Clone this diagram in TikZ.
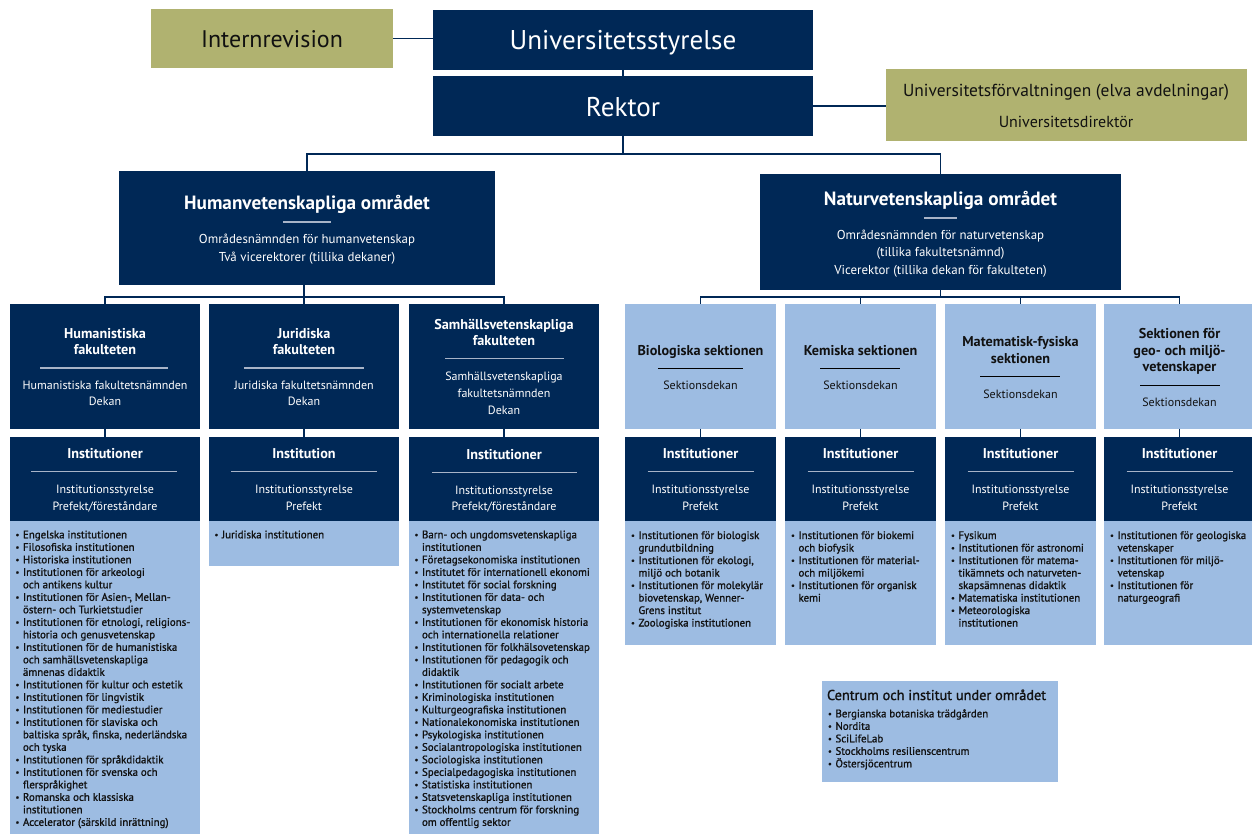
\documentclass[tikz,border=0pt]{standalone}
\usepackage{fontspec}
\setmainfont{PT Sans}
\newfontfamily\medf[FakeBold=1.2]{PT Sans}
\definecolor{sunavy}{RGB}{0,40,86}
\definecolor{sulight}{RGB}{157,188,226}
\definecolor{suolive}{RGB}{176,178,112}
\definecolor{surule}{RGB}{168,180,200}
\definecolor{sutext}{RGB}{17,17,17}
\newcommand\lbul{\makebox[7.5pt][l]{\raisebox{0.6pt}{\fontsize{8.5}{8.5}\selectfont\textbullet}}}
\newcommand\lcont{\makebox[7.5pt]{}}
\newcommand\lstrut{\rule{0pt}{8.5pt}}
\tikzset{
  every node/.style={inner sep=0pt, outer sep=0pt},
  boxnode/.style={anchor=north west, draw=none},
  navybox/.style={boxnode, fill=sunavy},
  lightbox/.style={boxnode, fill=sulight},
  olivebox/.style={boxnode, fill=suolive},
  conn/.style={draw=sunavy, line width=1.6pt},
  wrule/.style={draw=surule, line width=1.1pt},
  krule/.style={draw=black, line width=1pt},
  wt/.style={anchor=base, text=white},
  kt/.style={anchor=base, text=sutext},
  bigf/.style={font=\fontsize{27.1}{30}\selectfont},
  areat/.style={font=\bfseries\fontsize{19.2}{22}\selectfont},
  areas/.style={font=\fontsize{12.9}{15}\selectfont},
  tit/.style={font=\bfseries\fontsize{14.2}{17}\selectfont},
  sub/.style={font=\fontsize{12}{14}\selectfont},
  listf/.style={anchor=north west, align=left, text=sutext, font=\medf\fontsize{10.9}{12.5}\selectfont},
}
\begin{document}
\begin{tikzpicture}[x=1pt,y=-1pt]
\fill[white] (0,0) rectangle (1252,835);
\useasboundingbox (0,0) rectangle (1252,835);

% ---------- boxes ----------
\node[olivebox, minimum width=242pt, minimum height=59pt] (intrev) at (151,9) {};
\node[navybox, minimum width=380pt, minimum height=60pt] (ustyr) at (433,10) {};
\node[navybox, minimum width=380pt, minimum height=60pt] (rektor) at (433,76) {};
\node[olivebox, minimum width=361pt, minimum height=72pt] (uforv) at (886,69) {};
\node[navybox, minimum width=376pt, minimum height=114pt] (hv) at (119,171) {};
\node[navybox, minimum width=361pt, minimum height=115.5pt] (nv) at (760,174) {};

\node[navybox, minimum width=190pt, minimum height=124.5pt] (hum) at (10,304) {};
\node[navybox, minimum width=190pt, minimum height=124.5pt] (jur) at (209,304) {};
\node[navybox, minimum width=190pt, minimum height=124.5pt] (sam) at (409,304) {};
\node[lightbox, minimum width=151pt, minimum height=124.5pt] (bio) at (625,304) {};
\node[lightbox, minimum width=151pt, minimum height=124.5pt] (kem) at (785,304) {};
\node[lightbox, minimum width=151pt, minimum height=124.5pt] (mat) at (945,304) {};
\node[lightbox, minimum width=151pt, minimum height=124.5pt] (geo) at (1104,304) {};

\node[navybox, minimum width=190pt, minimum height=84pt] (humI) at (10,437) {};
\node[navybox, minimum width=190pt, minimum height=84pt] (jurI) at (209,437) {};
\node[navybox, minimum width=190pt, minimum height=84pt] (samI) at (409,437) {};
\node[navybox, minimum width=151pt, minimum height=84pt] (bioI) at (625,437) {};
\node[navybox, minimum width=151pt, minimum height=84pt] (kemI) at (785,437) {};
\node[navybox, minimum width=151pt, minimum height=84pt] (matI) at (945,437) {};
\node[navybox, minimum width=151pt, minimum height=84pt] (geoI) at (1104,437) {};

\node[lightbox, minimum width=190pt, minimum height=313pt] (humL) at (10,521) {};
\node[lightbox, minimum width=190pt, minimum height=45pt] (jurL) at (209,521) {};
\node[lightbox, minimum width=190pt, minimum height=313pt] (samL) at (409,521) {};
\node[lightbox, minimum width=151pt, minimum height=124pt] (bioL) at (625,521) {};
\node[lightbox, minimum width=151pt, minimum height=124pt] (kemL) at (785,521) {};
\node[lightbox, minimum width=151pt, minimum height=124pt] (matL) at (945,521) {};
\node[lightbox, minimum width=151pt, minimum height=124pt] (geoL) at (1104,521) {};

\node[lightbox, minimum width=236pt, minimum height=101pt] (cen) at (822,681) {};

% ---------- connectors ----------
\draw[conn] (intrev.east) -- (intrev.east -| ustyr.west);
\draw[conn] (ustyr.south) -- (rektor.north);
\draw[conn] (rektor.east) -- (rektor.east -| uforv.west);
\draw[conn] (rektor.south) -- ++(0,17.7) coordinate (j1);
\draw[conn] (hv.north) |- (j1) -| (nv.north);
\draw[conn] (hv.south -| jur.north) -- (jur.north);
\draw[conn] (hum.north) -- ++(0,-7) -| (sam.north);
\draw[conn] (nv.south) -- ++(0,7.5);
\draw[conn] (bio.north) -- ++(0,-7) -| (geo.north);
\draw[conn] (kem.north) -- ++(0,-7);
\draw[conn] (mat.north) -- ++(0,-7);
\foreach \a in {hum,jur,sam,bio,kem,mat,geo}{
  \draw[conn] (\a.south) -- (\a I.north);
}

% ---------- top texts ----------
\node[kt, font=\fontsize{24}{28}\selectfont] (intrevT) at (272,47.7) {Internrevision};
\node[wt, bigf] (ustyrT) at (623,49) {Universitetsstyrelse};
\node[wt, bigf] (rektorT) at (623,116) {Rektor};
\node[kt, font=\fontsize{17.4}{20}\selectfont] (uforvT1) at (1066,96.7) {Universitetsförvaltningen (elva avdelningar)};
\node[kt, font=\fontsize{16}{20}\selectfont] (uforvT2) at (1066,127) {Universitetsdirektör};

% ---------- area boxes ----------
\node[wt, areat] (hvT) at (307,209) {Humanvetenskapliga området};
\draw[wrule] (283,222) -- (331,222);
\node[wt, areas] (hvS1) at (307,243.3) {Områdesnämnden för humanvetenskap};
\node[wt, areas] (hvS2) at (307,261.3) {Två vicerektorer (tillika dekaner)};

\node[wt, areat] (nvT) at (940.5,205) {Naturvetenskapliga området};
\draw[wrule] (924,218) -- (957,218);
\node[wt, areas] (nvS1) at (940.5,239.3) {Områdesnämnden för naturvetenskap};
\node[wt, areas] (nvS2) at (940.5,256.8) {(tillika fakultetsnämnd)};
\node[wt, areas] (nvS3) at (940.5,274.3) {Vicerektor (tillika dekan för fakulteten)};

% ---------- faculties ----------
\node[wt, tit] (humT1) at (105,338.3) {Humanistiska};
\node[wt, tit] (humT2) at (105,354) {fakulteten};
\draw[wrule] (40,368) -- (168,368);
\node[wt, sub] (humS1) at (105,389) {Humanistiska fakultetsnämnden};
\node[wt, sub] (humS2) at (105,405.7) {Dekan};

\node[wt, tit] (jurT1) at (304,338.3) {Juridiska};
\node[wt, tit] (jurT2) at (304,354) {fakulteten};
\draw[wrule] (244,368) -- (364,368);
\node[wt, sub] (jurS1) at (304,389) {Juridiska fakultetsnämnden};
\node[wt, sub] (jurS2) at (304,405.7) {Dekan};

\node[wt, tit] (samT1) at (504,329.3) {Samhällsvetenskapliga};
\node[wt, tit] (samT2) at (504,345.7) {fakulteten};
\draw[wrule] (445,358.7) -- (564,358.7);
\node[wt, sub] (samS1) at (504,380.7) {Samhällsvetenskapliga};
\node[wt, sub] (samS2) at (504,397) {fakultetsnämnden};
\node[wt, sub] (samS3) at (504,414.3) {Dekan};

% ---------- sections ----------
\node[kt, tit] (bioT) at (700.5,355) {Biologiska sektionen};
\draw[krule] (658,368.3) -- (743,368.3);
\node[kt, sub] (bioS) at (700.5,389.3) {Sektionsdekan};

\node[kt, tit] (kemT) at (860.5,355) {Kemiska sektionen};
\draw[krule] (820,368.3) -- (900,368.3);
\node[kt, sub] (kemS) at (860.5,389.3) {Sektionsdekan};

\node[kt, tit] (matT1) at (1020.5,346) {Matematisk-fysiska};
\node[kt, tit] (matT2) at (1020.5,363.3) {sektionen};
\draw[krule] (980,376.7) -- (1060,376.7);
\node[kt, sub] (matS) at (1020.5,398.3) {Sektionsdekan};

\node[kt, tit] (geoT1) at (1179.5,338.3) {Sektionen för};
\node[kt, tit] (geoT2) at (1179.5,355) {geo- och miljö-};
\node[kt, tit] (geoT3) at (1179.5,371.7) {vetenskaper};
\draw[krule] (1140,385) -- (1220,385);
\node[kt, sub] (geoS) at (1179.5,406.7) {Sektionsdekan};

% ---------- institution boxes ----------
\node[wt, tit] (humIT) at (105,458.3) {Institutioner};
\draw[wrule] (31,471.7) -- (177,471.7);
\node[wt, sub] (humIS1) at (105,493.3) {Institutionsstyrelse};
\node[wt, sub] (humIS2) at (105,510) {Prefekt/föreståndare};

\node[wt, tit] (jurIT) at (304,458.3) {Institution};
\draw[wrule] (231,471.7) -- (377,471.7);
\node[wt, sub] (jurIS1) at (304,493.3) {Institutionsstyrelse};
\node[wt, sub] (jurIS2) at (304,510) {Prefekt};

\node[wt, tit] (samIT) at (504,459) {Institutioner};
\draw[wrule] (432,472.7) -- (577,472.7);
\node[wt, sub] (samIS1) at (504,494) {Institutionsstyrelse};
\node[wt, sub] (samIS2) at (504,510) {Prefekt/föreståndare};

\foreach \a/\cx in {bio/700.5,kem/860.5,mat/1020.5,geo/1179.5}{
  \node[wt, tit] (\a IT) at (\cx,458.3) {Institutioner};
  \draw[wrule] (\cx-53,471.7) -- (\cx+53,471.7);
  \node[wt, sub] (\a IS1) at (\cx,493.3) {Institutionsstyrelse};
  \node[wt, sub] (\a IS2) at (\cx,510) {Prefekt};
}

% ---------- lists ----------
\node[listf] (humLT) at (15.5,529.8) {\lstrut\lbul Engelska institutionen\\
\lbul Filosofiska institutionen\\
\lbul Historiska institutionen\\
\lbul Institutionen för arkeologi\\
\lcont och antikens kultur\\
\lbul Institutionen för Asien-, Mellan-\\
\lcont östern- och Turkietstudier\\
\lbul Institutionen för etnologi, religions-\\
\lcont historia och genusvetenskap\\
\lbul Institutionen för de humanistiska\\
\lcont och samhällsvetenskapliga\\
\lcont ämnenas didaktik\\
\lbul Institutionen för kultur och estetik\\
\lbul Institutionen för lingvistik\\
\lbul Institutionen för mediestudier\\
\lbul Institutionen för slaviska och\\
\lcont baltiska språk, finska, nederländska\\
\lcont och tyska\\
\lbul Institutionen för språkdidaktik\\
\lbul Institutionen för svenska och\\
\lcont flerspråkighet\\
\lbul Romanska och klassiska\\
\lcont institutionen\\
\lbul Accelerator (särskild inrättning)};

\node[listf] (jurLT) at (214.5,529.8) {\lstrut\lbul Juridiska institutionen};

\node[listf] (samLT) at (414.5,529.8) {\lstrut\lbul Barn- och ungdomsvetenskapliga\\
\lcont institutionen\\
\lbul Företagsekonomiska institutionen\\
\lbul Institutet för internationell ekonomi\\
\lbul Institutet för social forskning\\
\lbul Institutionen för data- och\\
\lcont systemvetenskap\\
\lbul Institutionen för ekonomisk historia\\
\lcont och internationella relationer\\
\lbul Institutionen för folkhälsovetenskap\\
\lbul Institutionen för pedagogik och\\
\lcont didaktik\\
\lbul Institutionen för socialt arbete\\
\lbul Kriminologiska institutionen\\
\lbul Kulturgeografiska institutionen\\
\lbul Nationalekonomiska institutionen\\
\lbul Psykologiska institutionen\\
\lbul Socialantropologiska institutionen\\
\lbul Sociologiska institutionen\\
\lbul Specialpedagogiska institutionen\\
\lbul Statistiska institutionen\\
\lbul Statsvetenskapliga institutionen\\
\lbul Stockholms centrum för forskning\\
\lcont om offentlig sektor};

\node[listf] (bioLT) at (631,530.5) {\lstrut\lbul Institutionen för biologisk\\
\lcont grundutbildning\\
\lbul Institutionen för ekologi,\\
\lcont miljö och botanik\\
\lbul Institutionen för molekylär\\
\lcont biovetenskap, Wenner-\\
\lcont Grens institut\\
\lbul Zoologiska institutionen};

\node[listf] (kemLT) at (791,530.5) {\lstrut\lbul Institutionen för biokemi\\
\lcont och biofysik\\
\lbul Institutionen för material-\\
\lcont och miljökemi\\
\lbul Institutionen för organisk\\
\lcont kemi};

\node[listf] (matLT) at (951,530.5) {\lstrut\lbul Fysikum\\
\lbul Institutionen för astronomi\\
\lbul Institutionen för matema-\\
\lcont tikämnets och naturveten-\\
\lcont skapsämnenas didaktik\\
\lbul Matematiska institutionen\\
\lbul Meteorologiska\\
\lcont institutionen};

\node[listf] (geoLT) at (1110,530.5) {\lstrut\lbul Institutionen för geologiska\\
\lcont vetenskaper\\
\lbul Institutionen för miljö-\\
\lcont vetenskap\\
\lbul Institutionen för\\
\lcont naturgeografi};

\node[kt, anchor=base west, font=\medf\fontsize{14.3}{16}\selectfont] (cenT) at (827,700) {Centrum och institut under området};
\node[listf] (cenLT) at (828,708.8) {\lstrut\lbul Bergianska botaniska trädgården\\
\lbul Nordita\\
\lbul SciLifeLab\\
\lbul Stockholms resilienscentrum\\
\lbul Östersjöcentrum};
\end{tikzpicture}
\end{document}
